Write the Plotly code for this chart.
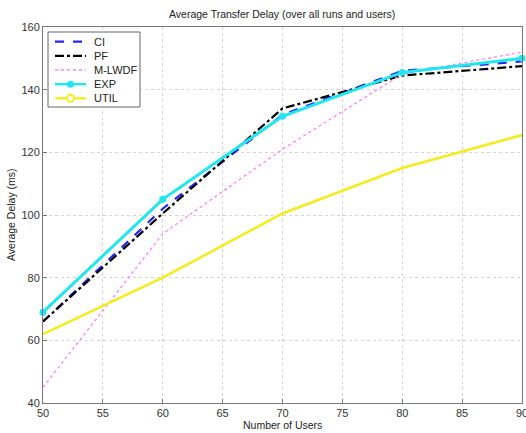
import plotly.graph_objects as go

users = [50, 60, 70, 80, 90]
ci = [66.0, 102.0, 132.0, 146.0, 149.0]
pf = [66.0, 100.5, 134.0, 144.5, 147.5]
mlwdf = [45.0, 94.0, 121.0, 145.0, 152.0]
exp_ = [69.0, 105.0, 131.5, 145.5, 150.0]
util = [62.0, 80.0, 100.5, 115.0, 125.5]
xticks = [50, 55, 60, 65, 70, 75, 80, 85, 90]
yticks = [40, 60, 80, 100, 120, 140, 160]
series_names = ["CI", "PF", "M-LWDF", "EXP", "UTIL"]

W, H = 526, 433
L, R, T, B = 43, 4, 27, 30
PW, PH = W - L - R, H - T - B


def px(xw):
    return (xw - L) / PW


def py(yw):
    return (H - B - yw) / PH


styles = [
    dict(line=dict(color="#2323ff", width=2.2, dash="dash"), marker=None),
    dict(line=dict(color="black", width=2.2, dash="dashdot"), marker=None),
    dict(line=dict(color="#ff80ff", width=1.3, dash="dot"), marker=None),
    dict(line=dict(color="#22e6ee", width=3), marker=dict(size=7, color="#22e6ee", symbol="circle")),
    dict(line=dict(color="#f4ec1e", width=2.6),
         marker=dict(size=9, color="rgba(255,255,255,0)", symbol="circle-open",
                     line=dict(color="#f4ec1e", width=2.5))),
]
values = [ci, pf, mlwdf, exp_, util]

fig = go.Figure()
for name, vals, st in zip(series_names, values, styles):
    kw = dict(x=users, y=vals, name=name, line=st["line"], showlegend=False,
              mode="lines+markers" if st["marker"] else "lines", cliponaxis=False)
    if st["marker"]:
        kw["marker"] = st["marker"]
    fig.add_trace(go.Scatter(**kw))

axis_common = dict(showline=True, linecolor="#777777", linewidth=1, mirror=True,
                   ticks="inside", ticklen=4, tickcolor="#777777",
                   showgrid=True, gridcolor="#d4d4d4", griddash="dot", gridwidth=1,
                   zeroline=False, tickfont=dict(size=11, color="#333333"),
                   automargin=False, ticklabeloverflow="allow")

shapes = []
annotations = []

# legend box (manual)
shapes.append(dict(type="rect", xref="paper", yref="paper",
                   x0=px(48), x1=px(140), y0=py(107), y1=py(32),
                   line=dict(color="#666666", width=1), fillcolor="white", layer="above"))
row_y = [41.7, 55.9, 70.0, 84.2, 98.3]
for name, st, ry in zip(series_names, styles, row_y):
    ln = st["line"]
    shapes.append(dict(type="line", xref="paper", yref="paper",
                       x0=px(55), x1=px(86), y0=py(ry), y1=py(ry),
                       line=dict(color=ln["color"], width=min(ln["width"], 2.4),
                                 dash=ln.get("dash", "solid")), layer="above"))
    if st["marker"]:
        r = 2.5 if name == "EXP" else 3.5
        shapes.append(dict(type="circle", xref="paper", yref="paper",
                           x0=px(70.5 - r), x1=px(70.5 + r), y0=py(ry + r), y1=py(ry - r),
                           line=dict(color=ln["color"], width=2),
                           fillcolor=ln["color"] if name == "EXP" else "white", layer="above"))
    annotations.append(dict(text=name, xref="paper", yref="paper", x=px(92), y=py(ry),
                            xanchor="left", yanchor="middle", showarrow=False,
                            font=dict(size=11, color="#222222")))

annotations.append(dict(text="Average Transfer Delay (over all runs and users)",
                        xref="paper", yref="paper", x=px(282), y=py(14),
                        xanchor="center", yanchor="middle", showarrow=False,
                        font=dict(size=10.5, color="#222222")))
annotations.append(dict(text="Number of Users", xref="paper", yref="paper",
                        x=px(282), y=py(425), xanchor="center", yanchor="middle",
                        showarrow=False, font=dict(size=10.5, color="#222222")))
annotations.append(dict(text="Average Delay (ms)", xref="paper", yref="paper",
                        x=px(11), y=py(215), xanchor="center", yanchor="middle",
                        textangle=-90, showarrow=False, font=dict(size=10.5, color="#222222")))

fig.update_layout(
    width=W, height=H,
    margin=dict(l=L, r=R, t=T, b=B, autoexpand=False),
    paper_bgcolor="white", plot_bgcolor="white",
    font=dict(family="Liberation Sans, Arial, sans-serif", size=11, color="#222222"),
    xaxis=dict(range=[50, 90], tickvals=xticks, **axis_common),
    yaxis=dict(range=[40, 160], tickvals=yticks, **axis_common),
    shapes=shapes, annotations=annotations,
    showlegend=False,
)

fig.write_html("out.html", config={"displayModeBar": False},
               post_script="document.body.style.margin='0';document.body.style.overflow='hidden';")
